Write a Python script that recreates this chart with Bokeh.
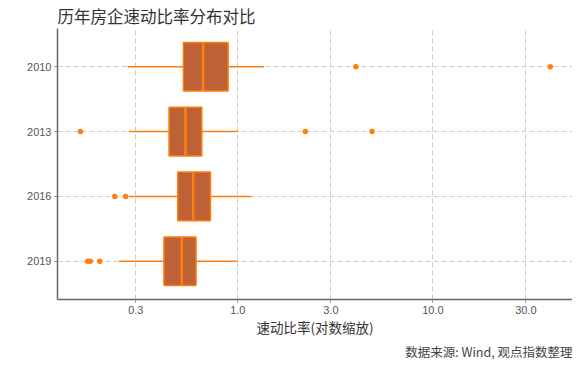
from bokeh.plotting import figure
from bokeh.models import FactorRange, Range1d, FixedTicker, Title
from bokeh.embed import file_html
from bokeh.resources import INLINE

# ---- data ----
years = ["2010", "2013", "2016", "2019"]
q1 = [0.526, 0.444, 0.492, 0.418]
med = [0.664, 0.539, 0.590, 0.516]
q3 = [0.892, 0.654, 0.724, 0.611]
whisk_lo = [0.272, 0.277, 0.276, 0.246]
whisk_hi = [1.364, 1.004, 1.175, 0.996]
out_year = ["2010", "2010", "2013", "2013", "2013", "2016", "2016", "2019", "2019", "2019"]
out_val = [4.03, 40.0, 0.156, 2.22, 4.88, 0.234, 0.266, 0.170, 0.175, 0.196]
x_ticks = [0.3, 1.0, 3.0, 10.0, 30.0]
x_tick_labels = ["0.3", "1.0", "3.0", "10.0", "30.0"]

CJK = "Noto Sans CJK SC"
ORANGE = "#ff7f0e"
BOXFILL = "#bf6136"

p = figure(width=572, height=360, output_backend="svg", toolbar_location=None,
           x_axis_type="log",
           x_range=Range1d(0.119, 52.0),
           y_range=FactorRange(factors=years[::-1], range_padding=0.045),
           min_border_left=57, min_border_right=0, min_border_top=0, min_border_bottom=0)

p.outline_line_color = None
p.background_fill_color = "white"
p.border_fill_color = "white"

# title
p.title.text = "历年房企速动比率分布对比"
p.title.text_font = CJK
p.title.text_font_size = "16.5px"
p.title.text_font_style = "normal"
p.title.text_color = "#333333"
p.title.align = "left"
p.title.standoff = 2
p.title.offset = 0

# whiskers
p.segment(x0=whisk_lo, y0=years, x1=q1, y1=years, line_color=ORANGE, line_width=1.5)
p.segment(x0=q3, y0=years, x1=whisk_hi, y1=years, line_color=ORANGE, line_width=1.5)
# boxes
p.hbar(y=years, left=q1, right=q3, height=0.75, fill_color=BOXFILL,
       line_color=ORANGE, line_width=1.5)
# medians
p.rect(x=med, y=years, width=2.5, width_units="screen", height=0.75,
       fill_color=ORANGE, line_color=None)
# outliers
p.scatter(x=out_val, y=out_year, size=5.5, fill_color=ORANGE, line_color=None)

# axes
p.xaxis.ticker = FixedTicker(ticks=x_ticks)
p.xaxis.major_label_overrides = {t: l for t, l in zip(x_ticks, x_tick_labels)}
p.xaxis.minor_tick_line_color = None
p.xaxis.axis_label = "速动比率(对数缩放)"
p.xaxis.axis_label_text_font = CJK
p.xaxis.axis_label_text_font_size = "13.5px"
p.xaxis.axis_label_text_font_style = "normal"
p.xaxis.axis_label_text_color = "#333333"
p.xaxis.axis_label_standoff = 0

for ax in (p.xaxis, p.yaxis):
    ax.axis_line_color = "#666666"
    ax.axis_line_width = 1.5
    ax.major_tick_line_color = "#888888"
    ax.major_tick_in = 0
    ax.major_tick_out = 3
    ax.major_label_text_font = "Liberation Sans"
    ax.major_label_text_font_size = "11px"
    ax.major_label_text_color = "#555555"
    ax.major_label_standoff = 3

# grids
p.xgrid.grid_line_color = "#cccccc"
p.xgrid.grid_line_dash = "5 3"
p.xgrid.grid_line_width = 1
p.ygrid.grid_line_color = "#cccccc"
p.ygrid.grid_line_dash = "5 3"
p.ygrid.grid_line_width = 1

# source note
src = Title(text="数据来源: Wind, 观点指数整理", align="right", text_font=CJK,
            text_font_size="12.5px", text_font_style="normal", text_color="#444444",
            standoff=0)
p.add_layout(src, "below")

open("out.html", "w").write(file_html(p, INLINE))
